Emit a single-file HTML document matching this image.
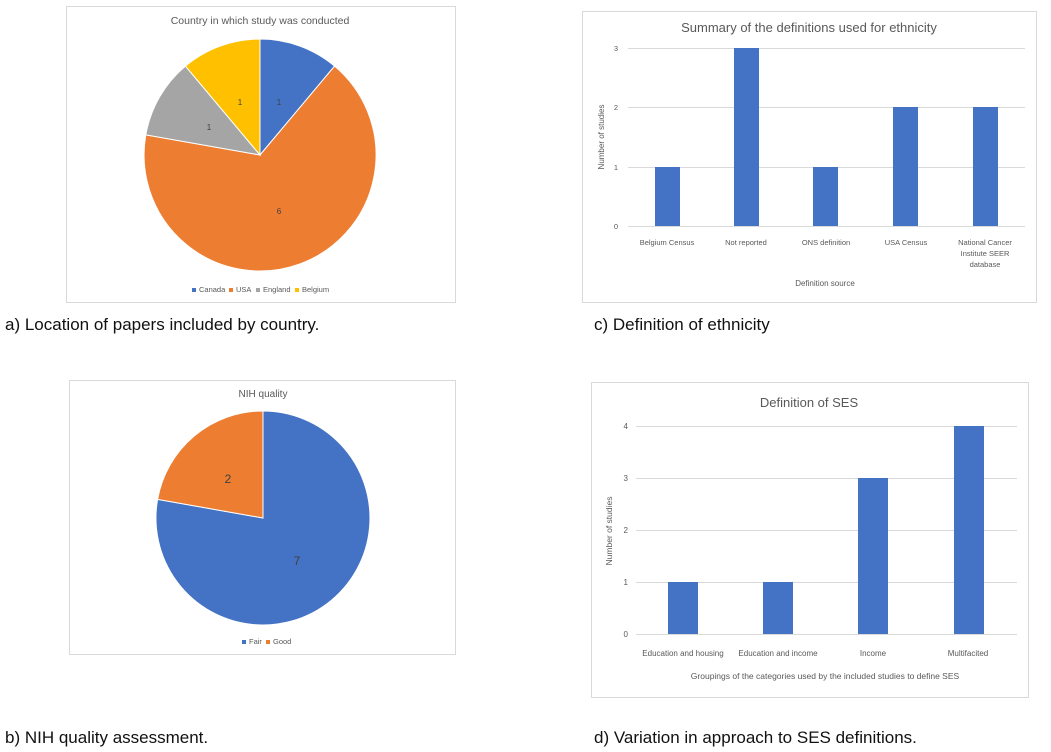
<!DOCTYPE html>
<html><head><meta charset="utf-8"><style>
body{margin:0;background:#fff;width:1051px;height:752px;overflow:hidden;font-family:"Liberation Sans",sans-serif;}
.cap{position:absolute;font-size:17px;color:#111;}
svg{position:absolute;left:0;top:0}
</style></head><body>
<svg width="1051" height="752" font-family="Liberation Sans, sans-serif">
<!-- Chart a -->
<rect x="66.5" y="6.5" width="389" height="296" fill="#fff" stroke="#d9d9d9"/>
<text x="260" y="24" font-size="10.5" fill="#595959" text-anchor="middle">Country in which study was conducted</text>
<path d="M260,155 L260,39 A116,116 0 0 1 334.6,66.1 Z" fill="#4472c4" stroke="#fff" stroke-width="1"/>
<path d="M260,155 L334.6,66.1 A116,116 0 1 1 145.8,134.9 Z" fill="#ed7d31" stroke="#fff" stroke-width="1"/>
<path d="M260,155 L145.8,134.9 A116,116 0 0 1 185.4,66.1 Z" fill="#a5a5a5" stroke="#fff" stroke-width="1"/>
<path d="M260,155 L185.4,66.1 A116,116 0 0 1 260,39 Z" fill="#ffc000" stroke="#fff" stroke-width="1"/>
<g font-size="8" fill="#404040" text-anchor="middle">
<text x="279" y="105">1</text><text x="240" y="105">1</text><text x="209" y="130">1</text><text x="279" y="214">6</text></g>
<g font-size="7.5" fill="#595959">
<rect x="192" y="288" width="4" height="4" fill="#4472c4"/><text x="199" y="292">Canada</text>
<rect x="229" y="288" width="4" height="4" fill="#ed7d31"/><text x="236" y="292">USA</text>
<rect x="256" y="288" width="4" height="4" fill="#a5a5a5"/><text x="263" y="292">England</text>
<rect x="295" y="288" width="4" height="4" fill="#ffc000"/><text x="302" y="292">Belgium</text>
</g>
<!-- Chart c -->
<rect x="582.5" y="11.5" width="454" height="291" fill="#fff" stroke="#d9d9d9"/>
<text x="809" y="32" font-size="13" fill="#595959" text-anchor="middle">Summary of the definitions used for ethnicity</text>
<g stroke="#d9d9d9"><line x1="628" y1="48.5" x2="1025" y2="48.5"/><line x1="628" y1="107.5" x2="1025" y2="107.5"/><line x1="628" y1="167.5" x2="1025" y2="167.5"/><line x1="628" y1="226.5" x2="1025" y2="226.5"/></g>
<g font-size="7.5" fill="#595959" text-anchor="end"><text x="618" y="51">3</text><text x="618" y="110">2</text><text x="618" y="170">1</text><text x="618" y="229">0</text></g>
<text transform="translate(604,137) rotate(-90)" font-size="8" fill="#595959" text-anchor="middle">Number of studies</text>
<g fill="#4472c4"><rect x="655" y="167" width="25" height="59"/><rect x="734" y="48" width="25" height="178"/><rect x="813" y="167" width="25" height="59"/><rect x="893" y="107" width="25" height="119"/><rect x="973" y="107" width="25" height="119"/></g>
<g font-size="7.5" fill="#595959" text-anchor="middle"><text x="667" y="245">Belgium Census</text><text x="746" y="245">Not reported</text><text x="826" y="245">ONS definition</text><text x="906" y="245">USA Census</text><text x="985" y="245">National Cancer</text><text x="985" y="256">Institute SEER</text><text x="985" y="267">database</text></g>
<text x="825" y="286" font-size="8" fill="#595959" text-anchor="middle">Definition source</text>
<!-- Chart b -->
<rect x="69.5" y="380.5" width="386" height="274" fill="#fff" stroke="#d9d9d9"/>
<text x="263" y="397" font-size="10" fill="#595959" text-anchor="middle">NIH quality</text>
<path d="M263,518 L263,411 A107,107 0 1 1 157.6,499.4 Z" fill="#4472c4" stroke="#fff" stroke-width="1"/>
<path d="M263,518 L157.6,499.4 A107,107 0 0 1 263,411 Z" fill="#ed7d31" stroke="#fff" stroke-width="1"/>
<text x="228" y="483" font-size="12" fill="#404040" text-anchor="middle">2</text>
<text x="297" y="565" font-size="12" fill="#404040" text-anchor="middle">7</text>
<g font-size="7.5" fill="#595959"><rect x="242" y="640" width="4" height="4" fill="#4472c4"/><text x="249" y="644">Fair</text><rect x="266" y="640" width="4" height="4" fill="#ed7d31"/><text x="273" y="644">Good</text></g>
<!-- Chart d -->
<rect x="591.5" y="382.5" width="437" height="315" fill="#fff" stroke="#d9d9d9"/>
<text x="809" y="407" font-size="13" fill="#595959" text-anchor="middle">Definition of SES</text>
<g stroke="#d9d9d9"><line x1="636" y1="426.5" x2="1017" y2="426.5"/><line x1="636" y1="478.5" x2="1017" y2="478.5"/><line x1="636" y1="530.5" x2="1017" y2="530.5"/><line x1="636" y1="582.5" x2="1017" y2="582.5"/><line x1="636" y1="634.5" x2="1017" y2="634.5"/></g>
<g font-size="8" fill="#595959" text-anchor="end"><text x="628" y="429">4</text><text x="628" y="481">3</text><text x="628" y="533">2</text><text x="628" y="585">1</text><text x="628" y="637">0</text></g>
<text transform="translate(612,531) rotate(-90)" font-size="8.5" fill="#595959" text-anchor="middle">Number of studies</text>
<g fill="#4472c4"><rect x="668" y="582" width="30" height="52"/><rect x="763" y="582" width="30" height="52"/><rect x="858" y="478" width="30" height="156"/><rect x="954" y="426" width="30" height="208"/></g>
<g font-size="8" fill="#595959" text-anchor="middle"><text x="683" y="656">Education and housing</text><text x="778" y="656">Education and income</text><text x="873" y="656">Income</text><text x="968" y="656">Multifacited</text></g>
<text x="825" y="679" font-size="8.5" fill="#595959" text-anchor="middle">Groupings of the categories used by the included studies to define SES</text>
</svg>
<div class="cap" style="left:5px;top:315px">a) Location of papers included by country.</div>
<div class="cap" style="left:594px;top:315px">c) Definition of ethnicity</div>
<div class="cap" style="left:5px;top:728px">b) NIH quality assessment.</div>
<div class="cap" style="left:594px;top:728px">d) Variation in approach to SES definitions.</div>
</body></html>
